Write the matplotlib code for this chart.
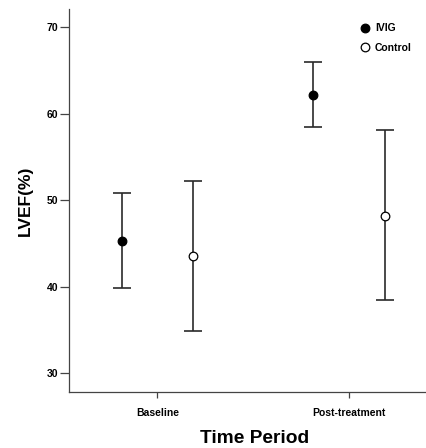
import matplotlib
matplotlib.use("Agg")
import matplotlib.pyplot as plt
import numpy as np

plt.rcParams['font.family'] = ['Liberation Sans', 'DejaVu Sans']

categories = ["Baseline", "Post-treatment"]
groups = ["IVIG", "Control"]
means = {"IVIG": [45.3, 62.2], "Control": [43.5, 48.2]}
lower = {"IVIG": [39.8, 58.4], "Control": [34.9, 38.4]}
upper = {"IVIG": [50.8, 66.0], "Control": [52.2, 58.1]}
yticks = [30, 40, 50, 60, 70]

fig = plt.figure(figsize=(4.27, 4.48), dpi=100)
ax = fig.add_axes([69/427, 1 - 392/448, 1 - 69/427, (392 - 9)/448])

offsets = {"IVIG": -0.188, "Control": 0.188}
faces = {"IVIG": "black", "Control": "white"}
x = np.arange(len(categories))
line_col = "#2a2a2a"
for g in groups:
    m = np.array(means[g]); lo = np.array(lower[g]); hi = np.array(upper[g])
    ax.errorbar(x + offsets[g], m, yerr=[m - lo, hi - m], fmt='none',
                ecolor=line_col, elinewidth=1.2, capsize=6.2, capthick=1.2, zorder=2)
    ax.plot(x + offsets[g], m, 'o', ms=6.2, mfc=faces[g], mec="black", mew=0.9,
            linestyle='none', label=g, zorder=3)

ax.set_xlim(-0.463, 1.41)
ax.set_ylim(27.8, 72.1)
ax.set_xticks(x)
ax.set_xticklabels(categories, fontsize=7.5, fontweight='bold')
ax.set_yticks(yticks)
ax.set_yticklabels([str(t) for t in yticks], fontsize=7.5, fontweight='bold')
ax.tick_params(axis='y', length=6.5, width=0.9, pad=1.5, color='#444444')
ax.tick_params(axis='x', length=4.3, width=0.9, pad=7, color='#444444')
for s in ['top', 'right']:
    ax.spines[s].set_visible(False)
for s in ['left', 'bottom']:
    ax.spines[s].set_linewidth(0.9)
    ax.spines[s].set_color('#444444')

ax.set_ylabel("LVEF(%)", fontsize=12.5, fontweight='bold', labelpad=10)
ax.set_xlabel("Time Period", fontsize=13.8, fontweight='bold')
ax.xaxis.set_label_coords((255 - 69) / 358, -(438 - 392) / 383, transform=ax.transAxes)
ax.xaxis.label.set_verticalalignment('center')

leg = ax.legend(loc='upper left', bbox_to_anchor=(355/427, 1 - 18/448),
                bbox_transform=fig.transFigure, frameon=False,
                prop={'size': 7.5, 'weight': 'bold'}, handletextpad=0.4,
                labelspacing=0.95, borderpad=0, handlelength=1.0)

fig.savefig("out.png", dpi=100)
